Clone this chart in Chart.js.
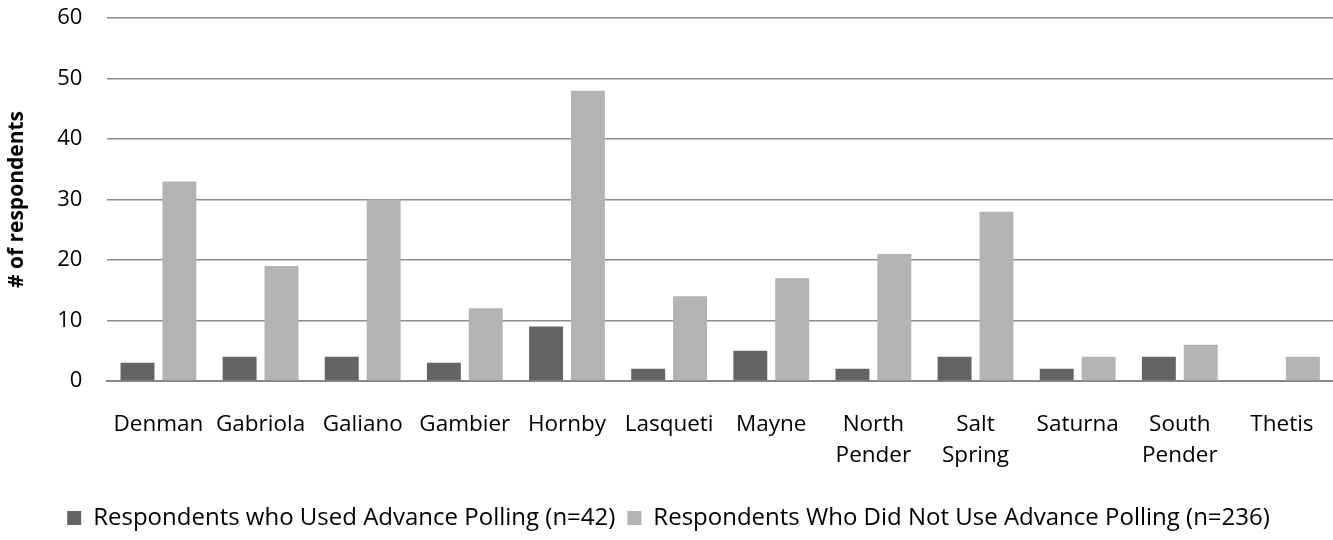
<!DOCTYPE html>
<html>
<head>
<meta charset="utf-8">
<script src="https://cdn.jsdelivr.net/npm/chart.js@4"></script>
<style>
  html, body { margin: 0; padding: 0; background: #fff; }
  #wrap { width: 1333px; height: 540px; position: relative; }
</style>
</head>
<body>
<div id="wrap"><canvas id="chart"></canvas></div>
<script>
// islands (multi-line labels as arrays)
const islands = ['Denman', 'Gabriola', 'Galiano', 'Gambier', 'Hornby', 'Lasqueti', 'Mayne',
  ['North', 'Pender'], ['Salt', 'Spring'], 'Saturna', ['South', 'Pender'], 'Thetis'];

// respondents per island
const usedAdvance = [3, 4, 4, 3, 9, 2, 5, 2, 4, 2, 4, 0];
const notUsedAdvance = [33, 19, 30, 12, 48, 14, 17, 21, 28, 4, 6, 4];

const seriesNames = ['Respondents who Used Advance Polling (n=42)', 'Respondents Who Did Not Use Advance Polling (n=236)'];
const yTicks = [0, 10, 20, 30, 40, 50, 60];

const font = "'Open Sans', sans-serif";
const hidden = 'rgba(0,0,0,0)';

new Chart(document.getElementById('chart'), {
  type: 'bar',
  data: {
    labels: islands,
    datasets: [
      { label: seriesNames[0], data: usedAdvance, backgroundColor: '#646464' },
      { label: seriesNames[1], data: notUsedAdvance, backgroundColor: '#b3b3b3' }
    ]
  },
  options: {
    responsive: true,
    maintainAspectRatio: false,
    animation: false,
    layout: { padding: { left: 4, right: 0, top: 0, bottom: 0 } },
    datasets: { bar: { categoryPercentage: 0.82, barPercentage: 0.81 } },
    plugins: {
      tooltip: { enabled: false },
      legend: {
        position: 'bottom',
        labels: {
          font: { family: font, size: 24 },
          color: '#000',
          boxWidth: 14,
          boxHeight: 14,
          padding: 12
        }
      }
    },
    scales: {
      x: {
        // invisible tick marks give the label gap (ticks.padding would also pad left/right)
        grid: { color: hidden, drawTicks: true, tickLength: 22, tickColor: hidden },
        border: { color: '#868686', width: 2 },
        ticks: { font: { family: font, size: 22.5, lineHeight: 1.38 }, color: '#000', padding: 6, maxRotation: 0, autoSkip: false },
        // blank title = spacer between the labels and the legend
        title: { display: true, text: ' ', font: { size: 10 }, padding: { top: 3, bottom: 2 } }
      },
      y: {
        min: 0,
        max: 60,
        afterBuildTicks: function(axis) { axis.ticks = yTicks.map(function(v) { return { value: v }; }); },
        grid: { color: '#8c8c8c', lineWidth: 1.5, drawTicks: true, tickLength: 20, tickColor: hidden },
        border: { display: false },
        ticks: { font: { family: font, size: 22 }, color: '#000', padding: 5 },
        title: { display: true, text: '# of respondents', font: { family: font, size: 21, weight: 'bold' }, color: '#000', padding: { top: 0, bottom: 23 } }
      }
    }
  }
});
</script>
</body>
</html>
